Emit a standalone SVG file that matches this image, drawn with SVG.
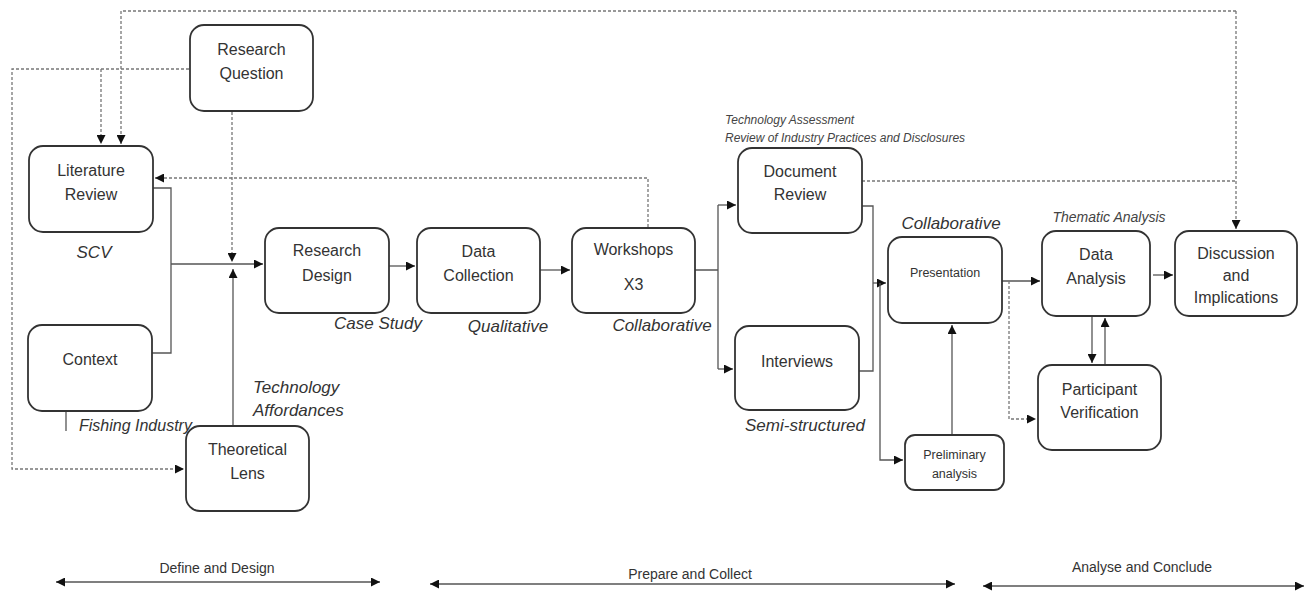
<svg xmlns="http://www.w3.org/2000/svg" width="1309" height="594" viewBox="0 0 1309 594">
<defs>
<marker id="arr" markerUnits="userSpaceOnUse" markerWidth="10" markerHeight="9" refX="9" refY="4.5" orient="auto-start-reverse">
<path d="M0,0 L9,4.5 L0,9 z" fill="#111"/>
</marker>
<style>
.box{fill:#fff;stroke:#333;stroke-width:1.8}
.t{font-family:"Liberation Sans",Arial,sans-serif;font-size:16px;fill:#333;text-anchor:middle}
.s{font-size:12.5px}
.i{font-family:"Liberation Sans",Arial,sans-serif;font-style:italic;font-size:17px;fill:#333}
.sm{font-size:12px;fill:#444}
.c{fill:none;stroke:#555;stroke-width:1.3}
.d{fill:none;stroke:#777;stroke-width:1.3;stroke-dasharray:3 2}
.a{marker-end:url(#arr)}
.b{marker-start:url(#arr);marker-end:url(#arr)}
</style>
</defs>
<rect width="1309" height="594" fill="#fff"/>

<g id="connectors">
<path class="d a" d="M1236,11 H121 V144"/>
<path class="d a" d="M1236,11 V229"/>
<path class="d" d="M862,181 H1236"/>
<path class="d a" d="M189,69 H12 V469 H184"/>
<path class="d a" d="M101,69 V144"/>
<path class="d a" d="M232,112 V262"/>
<path class="d a" d="M648,227 V178 H155"/>
<path class="c" d="M153,188 H171 V353 H152"/>
<path class="c a" d="M171,264 H263"/>
<path class="c a" d="M233,426 V269"/>
<path class="c" d="M66,411 V431"/>
<path class="c a" d="M389,266 H415"/>
<path class="c a" d="M540,270 H570"/>
<path class="c" d="M695,270 H718 M718,205 V369"/>
<path class="c a" d="M718,205 H736"/>
<path class="c a" d="M718,369 H733"/>
<path class="c" d="M862,206 H873 V371 H859"/>
<path class="c a" d="M873,283 H886"/>
<path class="c a" d="M880,283 V460 H903"/>
<path class="c a" d="M952,435 V325"/>
<path class="c a" d="M1002,281 H1040"/>
<path class="d a" d="M1009,281 V419 H1036"/>
<path class="c a" d="M1092,316 V363"/>
<path class="c a" d="M1105,365 V318"/>
<path class="c a" d="M1153,275 H1173"/>
<path class="c b" d="M56,582 H380"/>
<path class="c b" d="M430,584 H955"/>
<path class="c b" d="M983,586 H1304"/>
</g>

<g id="research-question"><rect class="box" x="190" y="25" width="123" height="86" rx="14"/>
<text class="t" x="251.5" y="55">Research</text><text class="t" x="251.5" y="79">Question</text></g>

<g id="literature-review"><rect class="box" x="29" y="146" width="124" height="86" rx="14"/>
<text class="t" x="91" y="176">Literature</text><text class="t" x="91" y="200">Review</text>
<text class="i" x="94" y="258" text-anchor="middle">SCV</text></g>

<g id="context"><rect class="box" x="28" y="325" width="124" height="86" rx="14"/>
<text class="t" x="90" y="365">Context</text>
<text class="i" x="79" y="431" style="font-size:16px">Fishing Industry</text></g>

<g id="theoretical-lens"><rect class="box" x="186" y="426" width="123" height="85" rx="14"/>
<text class="t" x="247.5" y="455">Theoretical</text><text class="t" x="247.5" y="479">Lens</text>
<text class="i" x="253" y="393">Technology</text><text class="i" x="253" y="416">Affordances</text></g>

<g id="research-design"><rect class="box" x="265" y="228" width="124" height="85" rx="14"/>
<text class="t" x="327" y="256">Research</text><text class="t" x="327" y="281">Design</text>
<text class="i" x="378" y="329" text-anchor="middle">Case Study</text></g>

<g id="data-collection"><rect class="box" x="417" y="228" width="123" height="85" rx="14"/>
<text class="t" x="478.5" y="257">Data</text><text class="t" x="478.5" y="281">Collection</text>
<text class="i" x="508" y="332" text-anchor="middle">Qualitative</text></g>

<g id="workshops"><rect class="box" x="572" y="228" width="123" height="85" rx="14"/>
<text class="t" x="633.5" y="255">Workshops</text><text class="t" x="633.5" y="290">X3</text>
<text class="i" x="662" y="331" text-anchor="middle">Collaborative</text></g>

<g id="document-review"><rect class="box" x="738" y="148" width="124" height="85" rx="14"/>
<text class="t" x="800" y="177">Document</text><text class="t" x="800" y="200">Review</text>
<text class="i sm" x="725" y="124">Technology Assessment</text>
<text class="i sm" x="725" y="142">Review of Industry Practices and Disclosures</text></g>

<g id="interviews"><rect class="box" x="735" y="326" width="124" height="84" rx="14"/>
<text class="t" x="797" y="367">Interviews</text>
<text class="i" x="805" y="431" text-anchor="middle">Semi-structured</text></g>

<g id="presentation"><rect class="box" x="888" y="237" width="114" height="86" rx="14"/>
<text class="t s" x="945" y="277">Presentation</text>
<text class="i" x="951" y="229" text-anchor="middle">Collaborative</text></g>

<g id="preliminary-analysis"><rect class="box" x="905" y="435" width="99" height="55" rx="10"/>
<text class="t s" x="954.5" y="459">Preliminary</text><text class="t s" x="954.5" y="478">analysis</text></g>

<g id="data-analysis"><rect class="box" x="1042" y="231" width="108" height="85" rx="14"/>
<text class="t" x="1096" y="260">Data</text><text class="t" x="1096" y="284">Analysis</text>
<text class="i" x="1109" y="222" text-anchor="middle" style="font-size:14px;fill:#444">Thematic Analysis</text></g>

<g id="participant-verification"><rect class="box" x="1038" y="365" width="123" height="85" rx="14"/>
<text class="t" x="1099.5" y="395">Participant</text><text class="t" x="1099.5" y="418">Verification</text></g>

<g id="discussion"><rect class="box" x="1175" y="231" width="122" height="85" rx="14"/>
<text class="t" x="1236" y="259">Discussion</text><text class="t" x="1236" y="281">and</text><text class="t" x="1236" y="303">Implications</text></g>

<g id="phases">
<text class="t" x="217" y="573" style="font-size:14px">Define and Design</text>
<text class="t" x="690" y="579" style="font-size:14px">Prepare and Collect</text>
<text class="t" x="1142" y="572" style="font-size:14px">Analyse and Conclude</text>
</g>
</svg>
